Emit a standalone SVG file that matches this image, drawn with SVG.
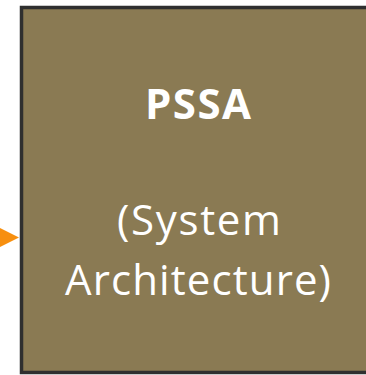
<svg xmlns="http://www.w3.org/2000/svg" width="366" height="375" viewBox="0 0 366 375">
  <style>
    .box { fill: #8a7a53; stroke: #2f2f2f; stroke-width: 3.5; }
    .label { fill: #ffffff; font-family: "Open Sans", "Noto Sans", "DejaVu Sans", sans-serif; text-anchor: middle; }
    .title { font-weight: bold; font-size: 42px; }
    .sub { font-size: 42px; }
    .arrowhead { fill: #f78f0f; }
  </style>
  <g id="connectors">
    <polygon class="arrowhead" points="0,228 19,237.5 0,247"/>
  </g>
  <g id="pssa">
    <rect class="box" x="21.5" y="7.5" width="360" height="365"/>
    <text class="label title" x="198" y="119" textLength="106" lengthAdjust="spacing">PSSA</text>
    <text class="label sub" x="199" y="235" textLength="164" lengthAdjust="spacing">(System</text>
    <text class="label sub" x="198" y="295" textLength="266" lengthAdjust="spacing">Architecture)</text>
  </g>
</svg>
